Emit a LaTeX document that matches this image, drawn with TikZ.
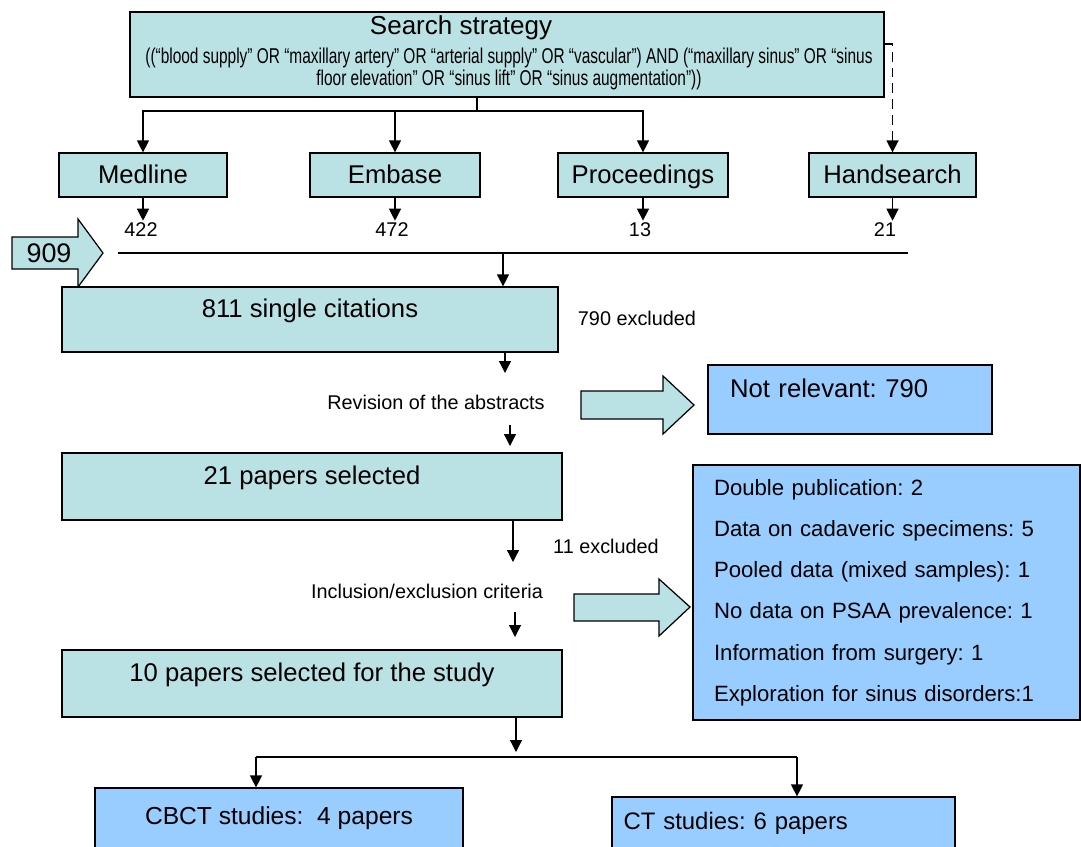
\documentclass[tikz,border=0pt]{standalone}
\usepackage{fontspec}
\setmainfont{Liberation Sans}
\newfontfamily\qryfont[FakeStretch=0.72]{Liberation Sans}
\usetikzlibrary{arrows.meta}
\definecolor{boxteal}{RGB}{186,225,227}
\definecolor{boxblue}{RGB}{153,204,255}
\frenchspacing

\begin{document}
\begin{tikzpicture}[x=0.02cm, y=-0.02cm, line width=0.7pt, >={Triangle[length=2.4mm, width=2.4mm]},
	tb/.style={draw, fill=boxteal, inner sep=0pt, font=\fontsize{14.6}{17}\selectfont},
	srcbox/.style={tb, minimum height=0.88cm, text height=0.36cm, text depth=0.02cm},
	mainbox/.style={tb, minimum width=10cm, minimum height=1.34cm, text height=0.32cm, text depth=0.40cm},
	bb/.style={draw, fill=boxblue, inner sep=0pt},
	lbl/.style={inner sep=1pt, font=\fontsize{11.3}{13}\selectfont}]
	\useasboundingbox (0,0) rectangle (1081,846);
	% search strategy and sources
	\node[tb, minimum width=15.08cm, minimum height=1.7cm] (srch) at (507,54.5) {};
	\node[inner sep=0pt, font=\fontsize{14.8}{17}\selectfont] (srchT) at (461,28) {Search strategy};
	\node[inner sep=0pt, align=center, font=\qryfont\fontsize{12.2}{12.8}\selectfont] (srchQ) at (509,69) {((“blood supply” OR “maxillary artery” OR “arterial supply” OR “vascular”) AND (“maxillary sinus” OR “sinus\\ floor elevation” OR “sinus lift” OR “sinus augmentation”))};
	\node[srcbox, minimum width=3.36cm] (med) at (143,175) {Medline};
	\node[srcbox, minimum width=3.4cm] (emb) at (395,175) {Embase};
	\node[srcbox, minimum width=3.4cm] (proc) at (643,175) {Proceedings};
	\node[srcbox, minimum width=3.34cm] (hand) at (892.5,175) {Handsearch};
	\coordinate (hub) at (477,111);
	\draw (hub |- srch.south) -- (hub);
	\draw[->] (hub) -| (med); \draw[->] (hub) -| (emb); \draw[->] (hub) -| (proc);
	\coordinate (dsh) at (892.5,44);
	\draw[->, line width=0.8pt, dash pattern=on 5.5pt off 3.5pt] (dsh -| srch.east) -| (hand);
	% counts
	\node[lbl] (n422) at (141,230) {422};
	\node[lbl] (n472) at (392,230) {472};
	\node[lbl] (n13) at (640,230) {13};
	\node[lbl] (n21) at (885,230) {21};
	\draw[->] (med) -- (med |- n422.north); \draw[->] (emb) -- (emb |- n472.north);
	\draw[->] (proc) -- (proc |- n13.north); \draw[->] (hand) -- (hand |- n21.north);
	\draw[fill=boxteal] (12,237) -- (78,237) -- (78,219) -- (103,253) -- (78,287) -- (78,269) -- (12,269) -- cycle;
	\node[inner sep=0pt, font=\fontsize{15.3}{17}\selectfont] (n909) at (49,253) {909};
	\coordinate (la) at (118,253); \coordinate (lb) at (908,253);
	\draw (la) -- (lb);
	% screening
	\node[mainbox, minimum width=9.92cm, minimum height=1.3cm] (cit) at (310,319.5) {811 single citations};
	\coordinate (j1) at (503,253);
	\draw[->] (j1) -- (j1 |- cit.north);
	\node[lbl] (exc790) at (637,318) {790 excluded};
	\coordinate (r1) at (505,373);
	\draw[->] (r1 |- cit.south) -- (r1);
	\node[lbl] (rev) at (436,402) {Revision of the abstracts};
	\coordinate (r2a) at (510,425); \coordinate (r2b) at (510,446);
	\draw[->] (r2a) -- (r2b);
	\draw[fill=boxteal] (581,391) -- (663,391) -- (663,376) -- (694,405) -- (663,434) -- (663,419) -- (581,419) -- cycle;
	\node[bb, minimum width=5.68cm, minimum height=1.38cm, text width=4.8cm, align=left, text height=0.32cm, text depth=0.40cm, font=\fontsize{14.6}{17}\selectfont] (notrel) at (850,399.5) {Not relevant: 790};
	\node[mainbox] (sel21) at (312,486.5) {21 papers selected};
	\node[lbl] (exc11) at (606,546) {11 excluded};
	\coordinate (i1) at (513,562);
	\draw[->] (i1 |- sel21.south) -- (i1);
	\node[lbl] (incl) at (427,591) {Inclusion/exclusion criteria};
	\coordinate (i2a) at (515,612); \coordinate (i2b) at (515,637);
	\draw[->] (i2a) -- (i2b);
	\draw[fill=boxteal] (574,594) -- (659,594) -- (659,579) -- (690,607) -- (659,636) -- (659,621) -- (574,621) -- cycle;
	\node[bb, minimum width=7.74cm, minimum height=5.1cm, text width=6.9cm, align=left, font=\fontsize{12.6}{23.5}\selectfont] (excl) at (886.5,592.5) {Double publication: 2\\ Data on cadaveric specimens: 5\\ Pooled data (mixed samples): 1\\ No data on PSAA prevalence: 1\\ Information from surgery: 1\\ Exploration for sinus disorders:1};
	\node[mainbox] (sel10) at (312,683.5) {10 papers selected for the study};
	% final split
	\coordinate (k1) at (516,752);
	\draw[->] (k1 |- sel10.south) -- (k1);
	\node[bb, minimum width=7.36cm, minimum height=1.2cm, font=\fontsize{14}{17}\selectfont] (cbct) at (279,818) {CBCT studies:\ \ 4 papers};
	\node[bb, minimum width=6.86cm, minimum height=1.04cm, text width=6.4cm, align=left, font=\fontsize{13.6}{17}\selectfont] (ct) at (783.5,823) {CT studies: 6 papers};
	\coordinate (kl) at (256,757); \coordinate (kr) at (797,757);
	\draw (kl) -- (kr);
	\draw[->] (kl) -- (kl |- cbct.north); \draw[->] (kr) -- (kr |- ct.north);
\end{tikzpicture}
\end{document}
